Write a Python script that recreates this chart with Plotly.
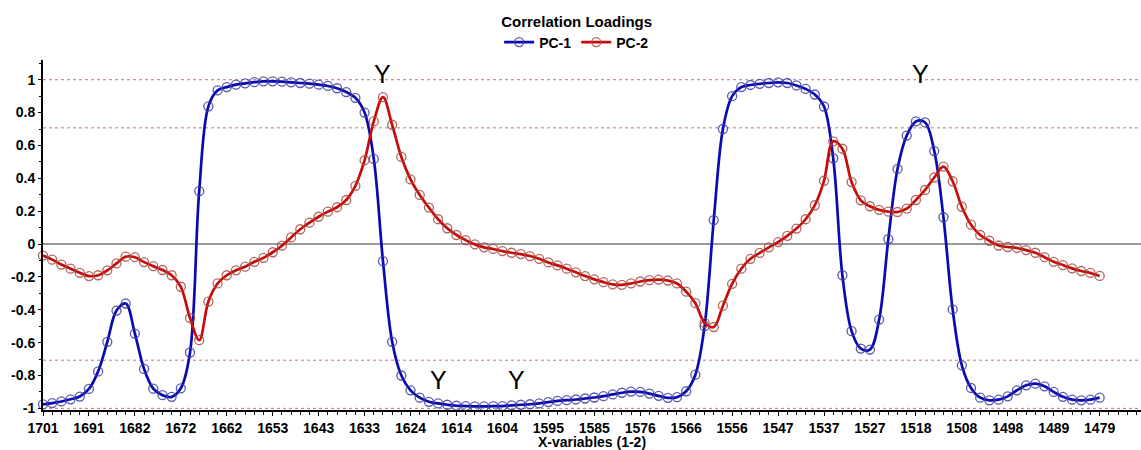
import plotly.graph_objects as go

# Wavenumber labels shown on every 5th X-variable
tick_labels = ["1701", "1691", "1682", "1672", "1662", "1653", "1643", "1633",
               "1624", "1614", "1604", "1595", "1585", "1576", "1566", "1556",
               "1547", "1537", "1527", "1518", "1508", "1498", "1489", "1479"]

# Correlation loadings, PC-1
pc1 = [-0.976, -0.968, -0.958, -0.945, -0.928, -0.882, -0.775, -0.595, -0.405, -0.362,
       -0.545, -0.760, -0.880, -0.920, -0.930, -0.878, -0.660, 0.322, 0.838, 0.935,
       0.955, 0.970, 0.978, 0.985, 0.990, 0.990, 0.988, 0.984, 0.980, 0.976,
       0.970, 0.962, 0.948, 0.925, 0.890, 0.800, 0.518, -0.104, -0.595, -0.800,
       -0.890, -0.935, -0.960, -0.970, -0.978, -0.984, -0.986, -0.988, -0.988, -0.987,
       -0.986, -0.982, -0.978, -0.975, -0.970, -0.962, -0.955, -0.950, -0.946, -0.940,
       -0.934, -0.926, -0.915, -0.905, -0.898, -0.900, -0.910, -0.924, -0.936, -0.932,
       -0.896, -0.795, -0.500, 0.146, 0.700, 0.900, 0.955, 0.968, 0.975, 0.980,
       0.984, 0.980, 0.965, 0.944, 0.910, 0.837, 0.522, -0.190, -0.530, -0.636,
       -0.642, -0.460, 0.030, 0.457, 0.660, 0.746, 0.740, 0.566, 0.163, -0.398,
       -0.738, -0.876, -0.935, -0.951, -0.947, -0.927, -0.890, -0.860, -0.850, -0.866,
       -0.900, -0.930, -0.947, -0.951, -0.947, -0.935]

# Correlation loadings, PC-2
pc2 = [-0.070, -0.095, -0.125, -0.150, -0.175, -0.195, -0.190, -0.160, -0.118, -0.077,
       -0.080, -0.110, -0.135, -0.158, -0.190, -0.260, -0.450, -0.585, -0.350, -0.240,
       -0.190, -0.160, -0.138, -0.108, -0.084, -0.050, -0.010, 0.040, 0.090, 0.130,
       0.166, 0.197, 0.224, 0.268, 0.354, 0.510, 0.746, 0.894, 0.726, 0.530,
       0.394, 0.299, 0.222, 0.151, 0.096, 0.055, 0.024, -0.002, -0.020, -0.030,
       -0.043, -0.053, -0.061, -0.073, -0.090, -0.112, -0.130, -0.150, -0.172, -0.195,
       -0.215, -0.232, -0.245, -0.248, -0.240, -0.228, -0.220, -0.216, -0.222, -0.240,
       -0.290, -0.360, -0.480, -0.505, -0.375, -0.242, -0.150, -0.090, -0.054, -0.020,
       0.012, 0.050, 0.094, 0.151, 0.236, 0.385, 0.625, 0.580, 0.377, 0.266,
       0.230, 0.208, 0.197, 0.195, 0.215, 0.268, 0.329, 0.405, 0.471, 0.382,
       0.227, 0.118, 0.055, 0.020, -0.009, -0.018, -0.024, -0.037, -0.053, -0.080,
       -0.108, -0.128, -0.148, -0.164, -0.176, -0.194]

# Explained-variance guide levels (50 % and 100 %)
guide_levels = [1.0, 0.707, -0.707, -1.0]

# "Y" response markers: (variable index, loading level)
y_marks = [(37, 1.037), (43, -0.83), (51.5, -0.83), (95.5, 1.037)]

x_idx = list(range(len(pc1)))
font_family = "Arial, Liberation Sans, sans-serif"

fig = go.Figure()

for yv in guide_levels:
    fig.add_shape(type="line", xref="paper", x0=0, x1=1, yref="y", y0=yv, y1=yv,
                  line=dict(color="#c07878", width=1, dash="dot"), layer="below")
fig.add_shape(type="line", xref="paper", x0=0, x1=1, yref="y", y0=0, y1=0,
              line=dict(color="#9a9a9a", width=2), layer="below")

fig.add_trace(go.Scatter(
    x=x_idx, y=pc1, name="PC-1", mode="lines+markers", cliponaxis=False,
    line=dict(color="#0a0ab4", width=2.7, shape="spline", smoothing=1.0),
    marker=dict(symbol="circle-open", size=9, color="rgba(60,60,160,0.85)",
                line=dict(width=1.3)),
))
fig.add_trace(go.Scatter(
    x=x_idx, y=pc2, name="PC-2", mode="lines+markers", cliponaxis=False,
    line=dict(color="#c80a0a", width=2.7, shape="spline", smoothing=1.0),
    marker=dict(symbol="circle-open", size=9, color="rgba(165,75,65,0.85)",
                line=dict(width=1.3)),
))

for xv, yv in y_marks:
    fig.add_annotation(x=xv, y=yv, text="Y", showarrow=False,
                       font=dict(family=font_family, size=25, color="black"),
                       xanchor="center", yanchor="middle")

fig.update_layout(
    width=1141, height=450,
    margin=dict(l=43, r=0, t=60, b=40),
    paper_bgcolor="white", plot_bgcolor="white",
    title=dict(text="<b>Correlation Loadings</b>", xref="paper", x=0.486,
               xanchor="center", y=0.951, yanchor="middle",
               font=dict(family=font_family, size=15, color="black")),
    legend=dict(orientation="h", x=0.486, xanchor="center", y=1.05, yanchor="middle",
                font=dict(family=font_family, size=14, color="black", weight="bold"),
                bgcolor="rgba(0,0,0,0)", itemwidth=30, tracegroupgap=0),
    xaxis=dict(
        range=[0, 119.5], tickmode="array", tickvals=x_idx[::5], ticktext=tick_labels,
        showgrid=False, zeroline=False, showline=True, linecolor="black", linewidth=2,
        ticks="outside", ticklen=4, tickcolor="black", tickwidth=1,
        minor=dict(dtick=1, ticks="outside", ticklen=3, tickcolor="black", tickwidth=1),
        tickfont=dict(family=font_family, size=14, color="black", weight="bold"),
        title=dict(text="<b>X-variables (1-2)</b>", standoff=4,
                   font=dict(family=font_family, size=14, color="black")),
    ),
    yaxis=dict(
        range=[-1.01, 1.12], tickmode="array",
        tickvals=[-1, -0.8, -0.6, -0.4, -0.2, 0, 0.2, 0.4, 0.6, 0.8, 1],
        ticktext=["-1", "-0.8", "-0.6", "-0.4", "-0.2", "0", "0.2", "0.4", "0.6", "0.8", "1"],
        showgrid=False, zeroline=False, showline=True, linecolor="black", linewidth=2,
        ticks="outside", ticklen=3, tickcolor="black", tickwidth=1,
        minor=dict(dtick=0.1, ticks="outside", ticklen=2, tickcolor="black"),
        tickfont=dict(family=font_family, size=14, color="black", weight="bold"),
    ),
    showlegend=True,
)

fig.write_html("out.html")
